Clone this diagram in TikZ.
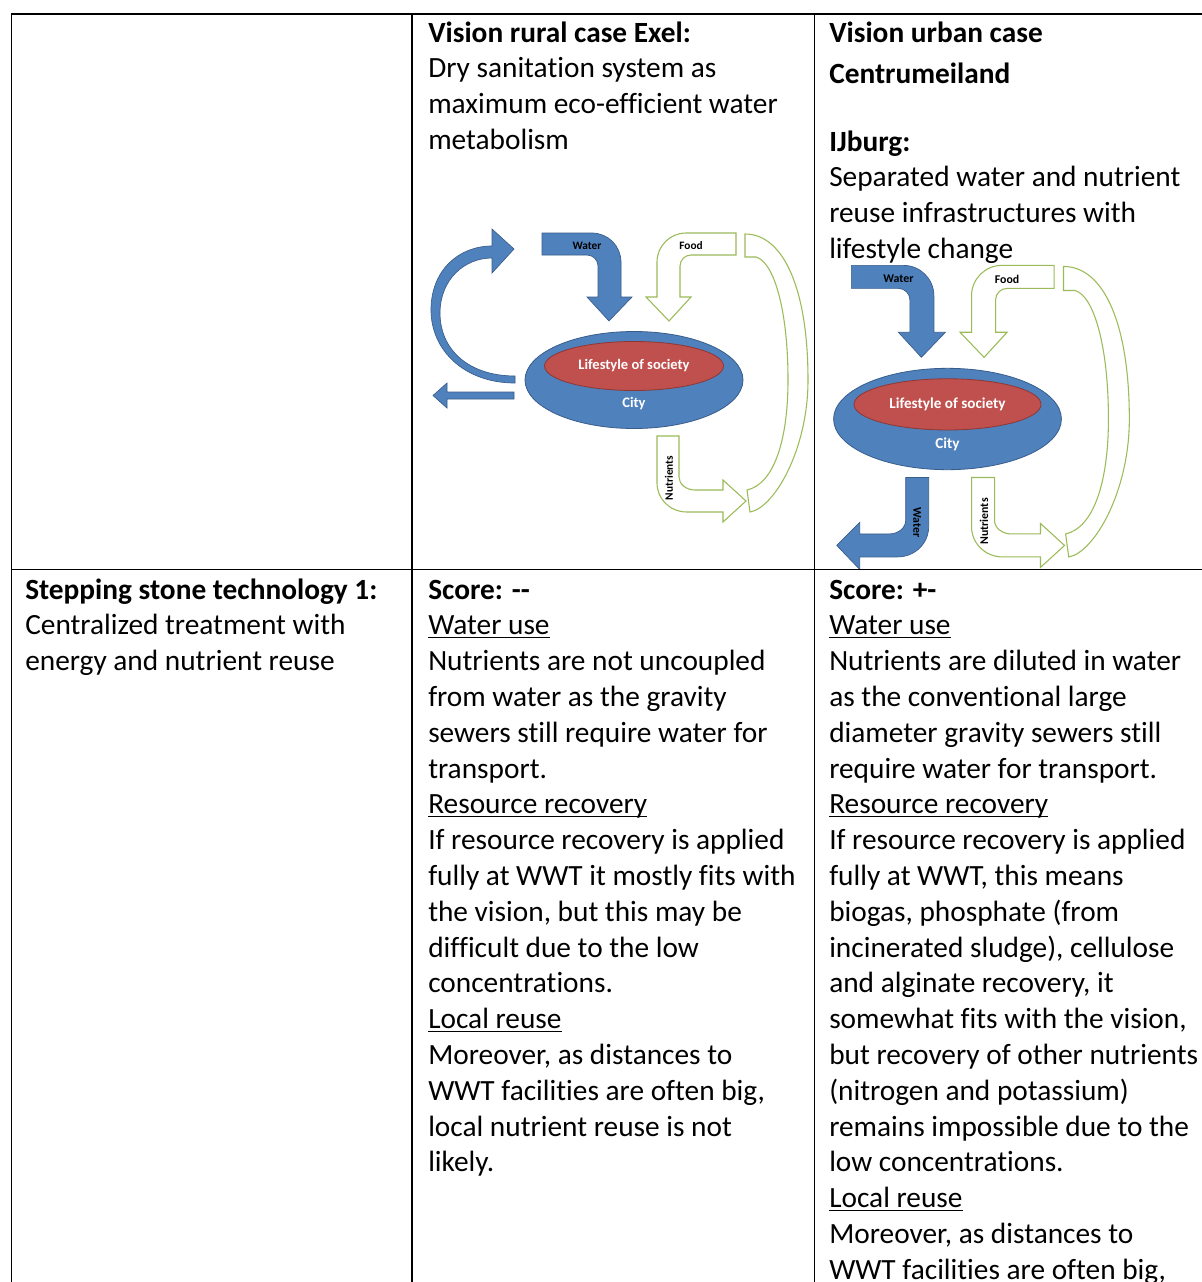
\documentclass[tikz,border=0pt]{standalone}
\usepackage{fontspec}
\setmainfont{Carlito}[Ligatures={NoCommon}]
\definecolor{cityblue}{HTML}{4F81BD}
\definecolor{cityedge}{HTML}{385D8A}
\definecolor{lifered}{HTML}{C0504D}
\definecolor{lifeedge}{HTML}{8C3836}
\definecolor{flowgreen}{HTML}{9BBB59}
% a block of left-aligned lines whose baseline is that of the first line
\newcommand\textlines[1]{\vtop{\halign{##\hfil\cr#1\crcr}}}
% word-style underline at a fixed depth
\newcommand\ulc[1]{\setbox0\hbox{#1}\rlap{\rule[-2.4pt]{\wd0}{0.9pt}}\box0}
% the bent supply arrow (water in; mirrored it gives food in)
\newcommand\supplypath{(-92,-147) -- (-42,-147) .. controls (-26,-147) and (-13,-134) .. (-13,-118) -- (-13,-83) -- (-2,-83) -- (-25,-59) -- (-47,-83) -- (-36,-83) -- (-36,-114) .. controls (-36,-120) and (-41,-125) .. (-47,-125) -- (-92,-125) -- cycle}
% city, lifestyle and the flows shared by both cases
\newcommand\citycore[1]{%
  \filldraw[fill=cityblue,draw=cityedge,line width=0.6pt] (0,0) ellipse [x radius=109, y radius=48.5];
  \filldraw[fill=lifered,draw=lifeedge,line width=0.6pt] (0,-14) ellipse [x radius=89.5, y radius=24.5];
  \node[lifelbl] (life#1) at (0,-14) {Lifestyle of society};
  \node[lifelbl] (city#1) at (0,24) {City};
  \filldraw[bluearrow] \supplypath;
  \node[flowlbl] (wlbl#1) at (-47,-134) {Water};
  \begin{scope}[shift={(10,0)},xscale=-1]
    \filldraw[greenarrow] \supplypath;
  \end{scope}
  \node[flowlbl] (flbl#1) at (57,-134) {Food};
  \filldraw[greenarrow] (111,-146) .. controls (150,-146) and (174,-90) .. (174,0) .. controls (174,70) and (140,128) .. (116,132) -- (113,110) .. controls (140,104) and (154,60) .. (154,0) .. controls (154,-70) and (140,-118) .. (122,-123) -- (111,-123) -- cycle;
  \filldraw[greenarrow] (23,56) -- (45,56) -- (45,97) .. controls (45,104) and (52,110) .. (61,110) -- (89,110) -- (89,100) -- (112,121) -- (89,142) -- (89,132) -- (53,132) .. controls (36,132) and (23,119) .. (23,103) -- cycle;
  \node[flowlbl,rotate=90] (nlbl#1) at (35,98) {Nutrients};
}
\begin{document}
\begin{tikzpicture}[x=0.75pt,y=-0.75pt,
  tbl/.style={line width=1.275pt,black},
  bluearrow/.style={fill=cityblue,draw=cityedge,line width=0.5pt},
  greenarrow/.style={fill=white,draw=flowgreen,line width=0.8pt},
  bodytext/.style={anchor=base west,inner sep=0pt,font=\fontsize{22pt}{26.85pt}\selectfont},
  flowlbl/.style={inner sep=0pt,font=\fontsize{8.5pt}{10pt}\selectfont\bfseries},
  lifelbl/.style={inner sep=0pt,text=white,font=\fontsize{10.9pt}{12pt}\selectfont\bfseries}]
\useasboundingbox[fill=white] (0,0) rectangle (1202,1282);

% rural case: dry sanitation
\begin{scope}[shift={(634,380)}]
  \citycore{A}
  \filldraw[bluearrow] (-119,3) .. controls (-170,3) and (-203,-30) .. (-203,-70) .. controls (-203,-110) and (-175,-134) .. (-142,-134) -- (-142,-151) -- (-120,-131) -- (-142,-107) -- (-142,-122) .. controls (-170,-122) and (-194,-100) .. (-194,-67) .. controls (-194,-30) and (-165,-4) .. (-119,-4) -- cycle;
  \filldraw[bluearrow] (-120,12) -- (-187,12) -- (-187,3) -- (-201,15.5) -- (-187,28) -- (-187,19) -- (-120,19) -- cycle;
\end{scope}

% urban case: separated infrastructures
\begin{scope}[shift={(947.5,419)},scale=1.045,transform shape]
  \citycore{B}
  \filldraw[bluearrow] (-18,56) -- (-40,56) -- (-40,97) .. controls (-40,104) and (-47,110) .. (-56,110) -- (-84,110) -- (-84,99) -- (-106,121) -- (-84,144) -- (-84,132) -- (-48,132) .. controls (-31,132) and (-18,119) .. (-18,103) -- cycle;
  \node[flowlbl,rotate=-90] (wout) at (-29,99) {Water};
\end{scope}

% header row
\node[bodytext] (rural) at (428,42) {\textlines{\textbf{Vision rural case Exel:}\cr
  Dry sanitation system as\cr maximum eco-efficient water\cr metabolism}};
\node[bodytext] (urban) at (829,42) {\textbf{Vision urban case}};
\node[bodytext] (centrum) at (829,83) {\textbf{Centrumeiland}};
\node[bodytext] (ijburg) at (829,151) {\textlines{\textbf{IJburg:}\cr
  Separated water and nutrient\cr reuse infrastructures with\cr lifestyle change}};

% stepping stone row
\node[bodytext] (tech) at (25,599) {\textlines{\textbf{Stepping stone technology 1:}\cr
  Centralized treatment with\cr energy and nutrient reuse}};
\node[bodytext] (scoreA) at (428,599) {\textlines{\textbf{Score: -\kern0pt-}\cr
  \ulc{Water use}\cr
  Nutrients are not uncoupled\cr
  from water as the gravity\cr
  sewers still require water for\cr
  transport.\cr
  \ulc{Resource recovery}\cr
  If resource recovery is applied\cr
  fully at WWT it mostly fits with\cr
  the vision, but this may be\cr
  difficult due to the low\cr
  concentrations.\cr
  \ulc{Local reuse}\cr
  Moreover, as distances to\cr
  WWT facilities are often big,\cr
  local nutrient reuse is not\cr
  likely.}};
\node[bodytext] (scoreB) at (829,599) {\textlines{\textbf{Score: +-}\cr
  \ulc{Water use}\cr
  Nutrients are diluted in water\cr
  as the conventional large\cr
  diameter gravity sewers still\cr
  require water for transport.\cr
  \ulc{Resource recovery}\cr
  If resource recovery is applied\cr
  fully at WWT, this means\cr
  biogas, phosphate (from\cr
  incinerated sludge), cellulose\cr
  and alginate recovery, it\cr
  somewhat fits with the vision,\cr
  but recovery of other nutrients\cr
  (nitrogen and potassium)\cr
  remains impossible due to the\cr
  low concentrations.\cr
  \ulc{Local reuse}\cr
  Moreover, as distances to\cr
  WWT facilities are often big,}};

% table rules
\draw[tbl] (11,14) -- (1202,14);
\draw[tbl] (11,569.5) -- (1202,569.5);
\draw[tbl] (11.5,14) -- (11.5,1282);
\draw[tbl] (412,14) -- (412,1282);
\draw[tbl] (814.5,14) -- (814.5,1282);
\end{tikzpicture}
\end{document}
